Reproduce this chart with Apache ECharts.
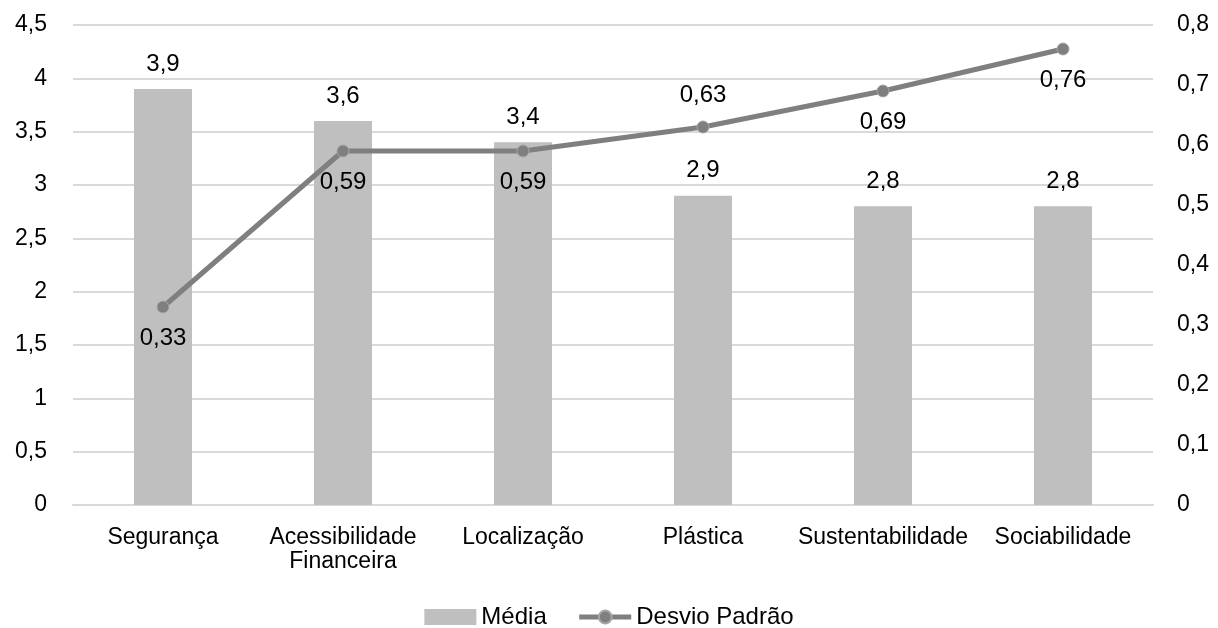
<!DOCTYPE html>
<html>
<head>
<meta charset="utf-8">
<script src="https://cdn.jsdelivr.net/npm/echarts@6/dist/echarts.min.js"></script>
<style>
  html, body { margin: 0; padding: 0; background: #fff; }
  #chart { width: 1218px; height: 628px; }
</style>
</head>
<body>
<div id="chart"></div>
<script>
// dados
const categorias = ['Segurança', 'Acessibilidade\nFinanceira', 'Localização', 'Plástica', 'Sustentabilidade', 'Sociabilidade'];
const media = [3.9, 3.6, 3.4, 2.9, 2.8, 2.8];
const desvio = [0.33, 0.59, 0.59, 0.63, 0.69, 0.76];
const posRotuloDesvio = ['bottom', 'bottom', 'bottom', 'top', 'bottom', 'bottom'];

const FONT = 'Liberation Sans, Arial, sans-serif';
const virgula = (v) => String(v).replace('.', ',');

const chart = echarts.init(document.getElementById('chart'));
chart.setOption({
  animation: false,
  textStyle: { fontFamily: FONT },
  grid: { left: 73, right: 65, top: 25, bottom: 123 },
  legend: {
    top: 600, left: 'center', itemGap: 30, itemWidth: 52, itemHeight: 16,
    textStyle: { fontSize: 24, color: '#000', fontFamily: FONT },
    data: [
      { name: 'Média', icon: 'rect' },
      { name: 'Desvio Padrão', lineStyle: { width: 5 } },
    ],
  },
  xAxis: {
    type: 'category', data: categorias,
    axisLine: { lineStyle: { color: '#d9d9d9', width: 2 } },
    axisTick: { show: false },
    axisLabel: { fontSize: 23, color: '#000', margin: 21, lineHeight: 24, interval: 0 },
  },
  yAxis: [
    {
      type: 'value', min: 0, max: 4.5, interval: 0.5,
      axisLabel: { fontSize: 23, color: '#000', margin: 26, formatter: virgula },
      splitLine: { lineStyle: { color: '#d9d9d9', width: 2 } },
    },
    {
      type: 'value', min: 0, max: 0.8, interval: 0.1,
      axisLabel: { fontSize: 23, color: '#000', margin: 24, formatter: virgula },
      splitLine: { show: false },
    },
  ],
  series: [
    {
      name: 'Média', type: 'bar', data: media, barWidth: 58,
      itemStyle: { color: '#bfbfbf' },
      label: { show: true, position: 'top', distance: 13, fontSize: 24, color: '#000', formatter: (p) => virgula(p.value) },
    },
    {
      name: 'Desvio Padrão', type: 'line', yAxisIndex: 1,
      data: desvio.map((v, i) => ({
        value: v,
        label: { position: posRotuloDesvio[i] },
      })),
      symbol: 'circle', symbolSize: 12,
      lineStyle: { color: '#7f7f7f', width: 5 },
      itemStyle: { color: '#7f7f7f', borderColor: '#a6a6a6', borderWidth: 1 },
      label: { show: true, distance: 13, fontSize: 24, color: '#000', formatter: (p) => virgula(p.value) },
    },
  ],
});
</script>
</body>
</html>
